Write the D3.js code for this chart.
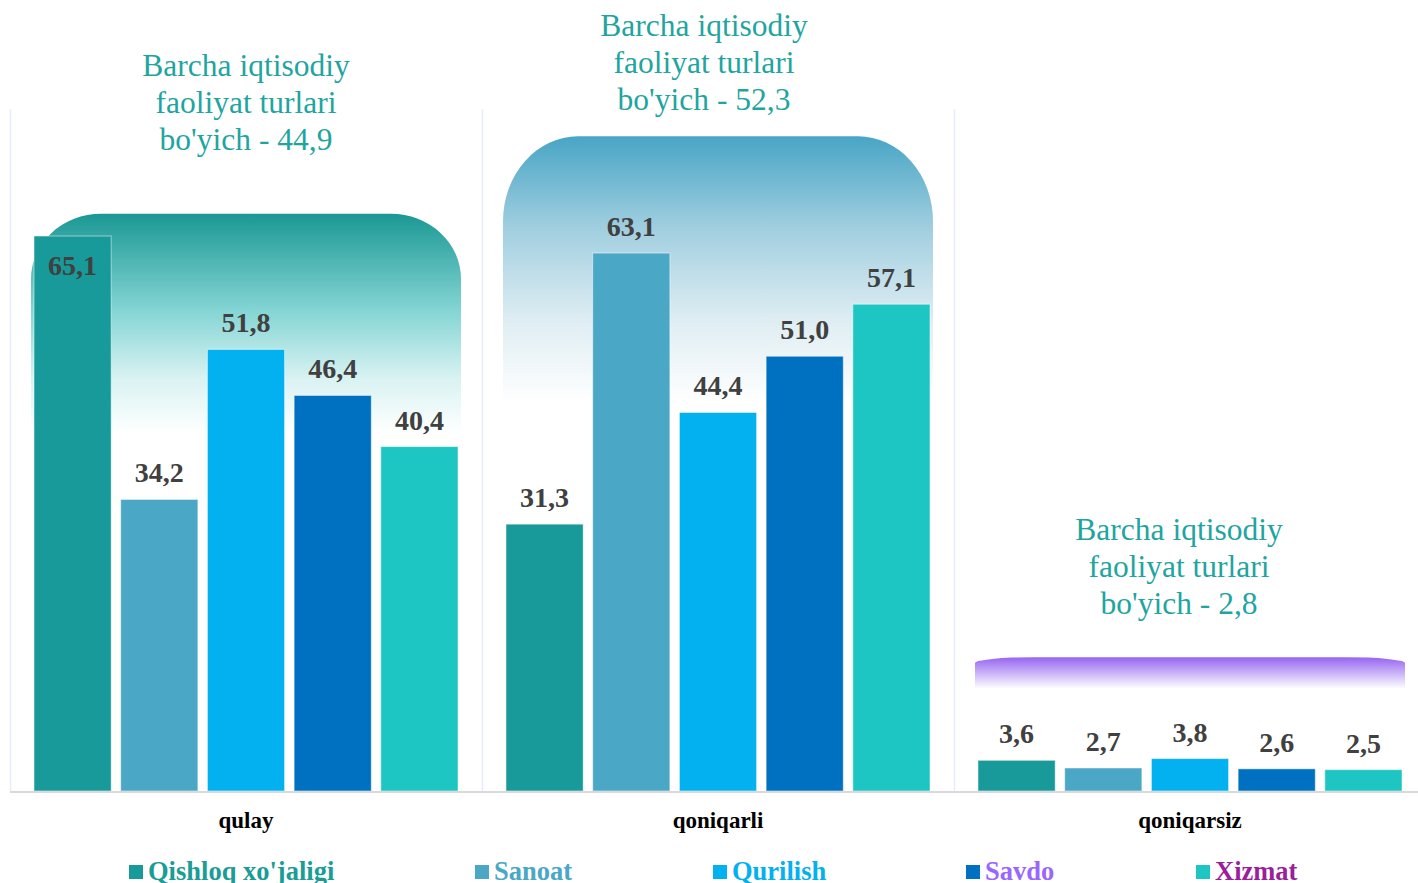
<!DOCTYPE html>
<html>
<head>
<meta charset="utf-8">
<script src="https://cdn.jsdelivr.net/npm/d3@7"></script>
<style>
html,body{margin:0;padding:0;background:#fff;overflow:hidden;}
svg{display:block;}
</style>
</head>
<body>
<svg id="chart" width="1418" height="883"></svg>
<script>
// ---- data ----
const categories = ["qulay", "qoniqarli", "qoniqarsiz"];
const series = ["Qishloq xo'jaligi", "Sanoat", "Qurilish", "Savdo", "Xizmat"];
const qishloq = [65.1, 31.3, 3.6];
const sanoat = [34.2, 63.1, 2.7];
const qurilish = [51.8, 44.4, 3.8];
const savdo = [46.4, 51.0, 2.6];
const xizmat = [40.4, 57.1, 2.5];
const totals = [44.9, 52.3, 2.8];
const annotationLines = ["Barcha iqtisodiy", "faoliyat turlari", "bo'yich - "];

const values = [qishloq, sanoat, qurilish, savdo, xizmat];
const barColors = ["#179a99", "#4aa7c6", "#03b0f0", "#0070c0", "#1dc5c3"];
const legendTextColors = ["#1a9c97", "#4aa7c6", "#03b0f0", "#9966ff", "#9b1f9b"];

const svg = d3.select("#chart");
const fmt = v => d3.format(".1f")(v).replace(".", ",");

const y = d3.scaleLinear().domain([0, 80]).range([791, 109]);
const x0 = d3.scaleBand().domain(categories).range([10, 1426]).paddingInner(0).paddingOuter(0);
const x1 = d3.scaleBand().domain(series).range([24, x0.bandwidth() - 24]).paddingInner(0.11).paddingOuter(0);

const defs = svg.append("defs");
const bgCfg = [
  {top: 67.7, bottom: 42.0, rx: 70, ry: 65, stops: [[0,"#1b9894"],[0.45,"#86d6d5"],[0.75,"#d9f2f2"],[1,"#ffffff"]]},
  {top: 76.8, bottom: 45.5, rx: 75, ry: 85, stops: [[0,"#48a5c5"],[0.35,"#a2cfe0"],[0.7,"#e0eef3"],[1,"#ffffff"]]},
  {top: 15.7, bottom: 12.0, rx: 60, ry: 6, stops: [[0,"#9763f2"],[0.5,"#c9b2f7"],[1,"#ffffff"]]}
];
bgCfg.forEach((c, i) => {
  const g = defs.append("linearGradient").attr("id", "bg" + i).attr("x1", 0).attr("y1", 0).attr("x2", 0).attr("y2", 1);
  c.stops.forEach(s => g.append("stop").attr("offset", s[0]).attr("stop-color", s[1]));
});

// separators
const sepX = categories.map(c => x0(c));
svg.selectAll("line.sep").data(sepX).join("line")
  .attr("x1", d => d + 0.5).attr("x2", d => d + 0.5)
  .attr("y1", y(80)).attr("y2", y(0))
  .attr("stroke", "#e4edf8").attr("stroke-width", 1.5);

// background rounded shapes
categories.forEach((c, i) => {
  const cfg = bgCfg[i];
  const xl = x0(c) + 21, xr = x0(c) + x0.bandwidth() - 21;
  const yt = y(cfg.top), yb = y(cfg.bottom);
  const rx = cfg.rx, ry = cfg.ry;
  const p = `M${xl},${yb} L${xl},${yt + ry} A${rx},${ry} 0 0 1 ${xl + rx},${yt} L${xr - rx},${yt} A${rx},${ry} 0 0 1 ${xr},${yt + ry} L${xr},${yb} Z`;
  svg.append("path").attr("d", p).attr("fill", `url(#bg${i})`);
});

// bars
const flat = [];
categories.forEach((c, ci) => series.forEach((s, si) => flat.push({c, ci, s, si, v: values[si][ci]})));
svg.selectAll("rect.bar").data(flat).join("rect")
  .attr("class", "bar")
  .attr("x", d => x0(d.c) + x1(d.s))
  .attr("y", d => y(d.v))
  .attr("width", x1.bandwidth())
  .attr("height", d => y(0) - y(d.v))
  .attr("fill", d => barColors[d.si])
  .attr("stroke", "rgba(255,255,255,0.5)").attr("stroke-width", 1);

// value labels
const insideLabels = ["qulay|Qishloq xo'jaligi"];
svg.selectAll("text.val").data(flat).join("text")
  .attr("x", d => x0(d.c) + x1(d.s) + x1.bandwidth() / 2)
  .attr("y", d => insideLabels.includes(d.c + "|" + d.s) ? y(d.v) + 39 : y(d.v) - 17)
  .attr("text-anchor", "middle")
  .attr("font-family", "'Liberation Serif', 'Times New Roman', serif")
  .attr("font-weight", "bold").attr("font-size", 28)
  .attr("fill", "#404040")
  .text(d => fmt(d.v));

// axis baseline
svg.append("line").attr("x1", 10).attr("x2", 1418).attr("y1", y(0) + 1).attr("y2", y(0) + 1)
  .attr("stroke", "#d9d9d9").attr("stroke-width", 2);

// category labels
const xAxis = d3.axisBottom(x0).tickSize(0).tickPadding(0);
const ax = svg.append("g").attr("transform", `translate(0,${y(0)})`).call(xAxis);
ax.select(".domain").remove();
ax.selectAll("text")
  .attr("dy", 0).attr("y", 37)
  .attr("font-family", "'Liberation Serif', 'Times New Roman', serif")
  .attr("font-weight", "bold").attr("font-size", 23).attr("fill", "#000");

// annotations
const annCfg = [
  {dx: 0, top: 76}, {dx: -14, top: 36}, {dx: -11, top: 540}
];
categories.forEach((c, i) => {
  const cx = x0(c) + x0.bandwidth() / 2 + annCfg[i].dx;
  const t = svg.append("text")
    .attr("text-anchor", "middle")
    .attr("font-family", "'Liberation Serif', 'Times New Roman', serif")
    .attr("font-size", 31.5).attr("fill", "#1fa59f");
  annotationLines.forEach((l, li) => {
    t.append("tspan").attr("x", cx).attr("y", annCfg[i].top + li * 37)
      .text(li === 2 ? l + fmt(totals[i]) : l);
  });
});

// legend
const legX = [129, 475, 713, 966, 1196];
const lg = svg.selectAll("g.leg").data(series).join("g")
  .attr("transform", (d, i) => `translate(${legX[i]},0)`);
lg.append("rect").attr("x", 0).attr("y", 865).attr("width", 14).attr("height", 14)
  .attr("fill", (d, i) => barColors[i]);
lg.append("text").attr("x", 19).attr("y", 880)
  .attr("font-family", "'Liberation Serif', 'Times New Roman', serif")
  .attr("font-weight", "bold").attr("font-size", 26.5)
  .attr("fill", (d, i) => legendTextColors[i])
  .text(d => d);
</script>
</body>
</html>
